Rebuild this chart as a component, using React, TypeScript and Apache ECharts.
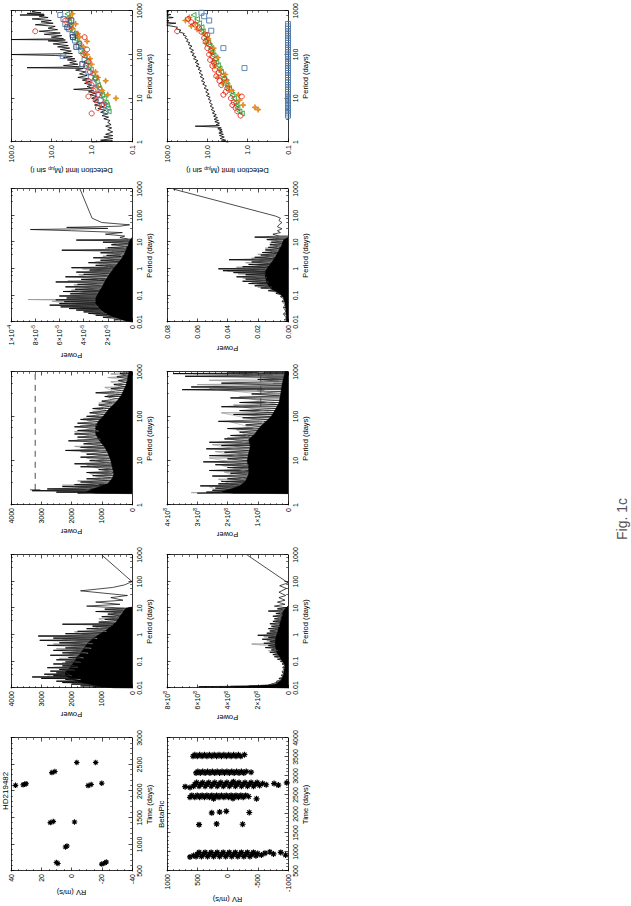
import React, { useEffect, useRef } from 'react';
import * as echarts from 'echarts';

// ---------------- DATA ----------------
// RV panels: [time (days), RV (m/s)]
const HD_RV = [[640,9],[660,10],[630,-20],[650,-22],[670,-23],[950,4],[970,3],[1410,14],[1430,12],[1420,-2],[2110,37],[2120,32],[2130,31],[2140,30],[2105,-11],[2125,-13],[2150,-20],[2350,13],[2370,11],[2540,-3.5],[2540,-16]];
const BP_RV = [
  [880,520],[940,500],[990,470],[880,430],[940,400],[990,370],[880,330],[940,300],[990,270],[880,230],[940,200],[990,170],[880,130],[940,100],[990,70],[880,30],[940,0],[990,-30],[880,-70],[940,-100],[990,-130],[880,-170],[940,-200],[990,-230],[880,-270],[940,-300],[990,-330],[880,-370],[940,-400],[990,-430],[900,-470],[960,-500],[870,620],[920,-560],[970,-620],[1000,-700],[950,-760],[990,-880],[920,-960],[910,560],
  [1720,470],[1740,180],[1730,-250],[2030,260],[2050,130],[2070,20],[2040,-360],
  [2440,620],[2490,590],[2440,540],[2490,500],[2440,460],[2490,420],[2440,380],[2490,340],[2440,300],[2490,260],[2440,220],[2490,180],[2440,140],[2490,100],[2440,60],[2490,20],[2440,-20],[2490,-60],[2440,-100],[2490,-140],[2440,-180],[2490,-220],[2440,-260],[2490,-300],[2460,-350],[2400,230],[2410,-90],[2400,-480],
  [2730,560],[2780,540],[2830,510],[2730,470],[2780,440],[2830,410],[2730,370],[2780,340],[2830,310],[2730,270],[2780,240],[2830,210],[2730,170],[2780,140],[2830,110],[2730,70],[2780,40],[2830,10],[2730,-30],[2780,-60],[2830,-90],[2730,-130],[2780,-160],[2830,-190],[2730,-230],[2780,-260],[2830,-290],[2730,-330],[2780,-360],[2830,-390],[2730,-430],[2780,-460],[2830,-490],[2750,-530],[2800,-580],[2770,-640],[2720,700],[2800,-770],[2760,-840],[2820,-980],[2700,620],[2850,-100],
  [3080,520],[3120,490],[3080,450],[3120,410],[3080,370],[3120,330],[3080,290],[3120,250],[3080,210],[3120,170],[3080,130],[3120,90],[3080,50],[3120,10],[3080,-30],[3120,-70],[3080,-110],[3120,-150],[3080,-190],[3120,-230],[3080,-270],[3120,-310],[3100,-390],
  [3520,570],[3560,540],[3520,500],[3560,460],[3520,420],[3560,380],[3520,340],[3560,300],[3520,260],[3560,220],[3520,180],[3560,140],[3520,100],[3560,60],[3520,20],[3560,-20],[3520,-60],[3560,-100],[3520,-140],[3560,-180],[3520,-220],[3560,-280]
];

// Periodograms: [period (days), power]. *_DENSE = densely sampled part, *_TAIL = sparse long-period part
const HD_P1_FILL = [[0.01,0],[0.0102,600],[0.011,900],[0.013,1300],[0.016,1650],[0.02,1900],[0.025,2100],[0.03,2200],[0.04,2200],[0.05,2100],[0.07,2000],[0.1,1900],[0.15,1800],[0.2,1700],[0.3,1600],[0.5,1450],[0.7,1300],[1,1100],[1.5,850],[2,700],[3,520],[5,400],[7,300],[10,200],[11,0]];
const HD_P1_DENSE = [[0.011,1300],[0.0115,900],[0.012,1700],[0.013,1100],[0.014,2000],[0.015,1400],[0.016,2300],[0.017,1500],[0.018,2500],[0.019,1700],[0.021,2200],[0.022,1800],[0.023,3000],[0.024,1900],[0.026,3300],[0.027,2000],[0.029,2600],[0.031,2000],[0.033,2900],[0.035,2000],[0.037,2500],[0.04,1950],[0.043,2700],[0.046,1900],[0.05,2400],[0.054,1800],[0.058,2800],[0.063,1800],[0.068,2300],[0.074,1750],[0.08,2600],[0.087,1700],[0.095,2200],[0.105,1650],[0.115,2500],[0.125,1600],[0.14,2100],[0.155,1550],[0.17,2700],[0.19,1500],[0.21,2300],[0.23,1450],[0.26,2600],[0.29,1400],[0.32,2200],[0.36,1350],[0.4,2800],[0.44,1300],[0.5,2400],[0.55,1250],[0.62,3050],[0.68,1200],[0.75,2600],[0.82,1150],[0.9,3100],[0.98,1050],[1.1,2200],[1.2,950],[1.35,1800],[1.5,800],[1.7,1500],[1.9,700],[2.1,1300],[2.3,650],[2.5,2300],[2.7,550],[3.0,1100],[3.4,500],[3.8,900],[4.3,450],[4.8,1000],[5.4,400],[6,800],[6.7,350],[7.5,1200],[8.3,300],[9.2,900],[10,250]];
const HD_P1_TAIL = [[10,250],[12,1500],[14,400],[17,1200],[20,300],[25,700],[30,150],[45,1700],[60,650],[75,250],[100,0],[1000,1000]];
const HD_P1_GRAY = [[0.02,2100],[0.0205,1700],[0.028,2800],[0.0285,2000],[0.045,2300],[0.046,1900],[0.06,2600],[0.061,1800],[0.09,2300],[0.092,1700],[0.13,2400],[0.133,1600],[0.2,2100],[0.205,1450],[0.3,2500],[0.31,1350],[0.45,2600],[0.46,1300],[0.7,2300],[0.72,1150],[1.3,1900],[1.33,850],[2.2,1300],[2.25,650],[4,1100],[4.1,450],[7,600],[7.2,300]];

const HD_P2_FILL = [[1.8,0],[1.85,1200],[2,1500],[2.3,1300],[2.7,1000],[3,800],[4,650],[5,600],[7,650],[10,700],[15,800],[20,900],[30,1100],[40,1200],[60,1200],[80,1100],[100,950],[150,750],[200,550],[300,350],[500,200],[700,150],[1000,100]];
const HD_P2_DENSE = [[1.85,1800],[1.9,1200],[1.95,2500],[2.0,1400],[2.1,3300],[2.2,1500],[2.3,2800],[2.45,1300],[2.6,2300],[2.75,1100],[2.9,1900],[3.1,900],[3.3,1700],[3.6,800],[3.9,1500],[4.2,700],[4.6,1300],[5,650],[5.4,1500],[5.8,650],[6.3,1100],[6.8,700],[7.3,1700],[7.9,700],[8.5,1900],[9.2,750],[10,1400],[11,750],[12,1700],[13,800],[14,1500],[15.5,850],[17,2200],[18.5,900],[20,1700],[22,950],[24,1600],[26,1000],[28,2100],[31,1050],[34,1800],[37,1100],[40,1900],[44,1100],[48,1800],[53,1100],[58,1900],[64,1150],[70,1800],[77,1100],[85,1700],[93,1000],[100,1500],[110,950],[120,1400],[135,850],[150,1300],[165,750],[180,1100],[200,650],[220,1000],[250,500],[280,900],[310,400],[340,1200],[380,350],[420,700],[470,250],[520,600],[580,200],[640,450],[700,150],[780,500],[850,200],[920,400],[1000,200]];
const HD_P2_GRAY = [[2.3,2600],[2.35,1400],[2.8,2300],[2.85,1100],[3.5,1800],[3.55,850],[5.2,1400],[5.3,650],[8,1500],[8.1,700],[11.5,1500],[11.7,750],[16,1700],[16.3,850],[21,1900],[21.4,950],[30,1800],[30.6,1050],[45,1900],[46,1100],[62,1700],[63,1150],[90,1600],[92,1000],[130,1300],[133,850],[200,1100],[205,650],[300,800],[310,400],[450,900],[470,300],[600,700],[650,150],[750,800],[820,200],[900,700],[1000,300]];
const HD_P2_THRESHOLD = [[2.2,3200],[1000,3200]];
const HD_P2_THRESHOLD_TICK = [[2.2,3030],[2.2,3370]];

// HD219482 third periodogram, power in units of 1e-5
const HD_P3_FILL = [[0.01,0],[0.011,0.5],[0.013,1.0],[0.016,1.6],[0.02,2.1],[0.03,2.6],[0.05,3.0],[0.08,3.0],[0.12,2.8],[0.2,2.5],[0.3,2.3],[0.5,2.0],[0.8,1.7],[1.2,1.4],[2,1.0],[3,0.7],[5,0.5],[8,0.3],[12,0.15],[15,0]];
const HD_P3_DENSE = [[0.012,1.5],[0.013,1.1],[0.015,2.4],[0.016,1.7],[0.018,3.0],[0.019,2.0],[0.021,3.6],[0.022,2.2],[0.024,4.0],[0.026,2.5],[0.028,4.6],[0.03,2.7],[0.032,5.2],[0.034,2.8],[0.037,5.9],[0.04,2.9],[0.043,6.8],[0.046,3.0],[0.05,6.0],[0.054,3.0],[0.058,5.6],[0.063,3.0],[0.068,6.3],[0.074,3.0],[0.08,5.4],[0.087,3.0],[0.095,6.0],[0.105,2.9],[0.115,5.1],[0.125,2.9],[0.14,5.7],[0.155,2.7],[0.17,4.7],[0.19,2.6],[0.21,5.5],[0.23,2.5],[0.26,4.5],[0.29,2.4],[0.32,6.3],[0.36,2.3],[0.4,4.2],[0.44,2.2],[0.5,5.5],[0.55,2.0],[0.62,4.0],[0.68,1.9],[0.75,4.6],[0.82,1.8],[0.9,3.5],[1.0,1.7],[1.1,5.0],[1.2,1.5],[1.35,3.0],[1.5,1.3],[1.7,3.6],[1.9,1.1],[2.1,2.6],[2.3,1.0],[2.6,3.2],[2.9,0.9],[3.2,2.1],[3.6,0.8],[4,2.6],[4.5,0.6],[5,5.8],[5.5,0.5],[6.2,2.0],[7,0.4],[8,1.7],[9,0.35],[10,2.4],[11,0.3],[12,4.6],[13,0.3]];
const HD_P3_TAIL = [[13,0.3],[15,1.0],[17,0.6],[20,2.2],[23,0.8],[27,5.0],[30,8.4],[33,2.0],[36,5.4],[40,1.0],[45,0.2],[55,2.5],[80,3.3],[1000,4.3]];
const HD_P3_GRAY = [[0.02,3.2],[0.0205,2.1],[0.035,5.0],[0.036,2.8],[0.06,6.6],[0.061,3.0],[0.07,8.6],[0.071,3.0],[0.1,5.2],[0.102,2.9],[0.16,5.0],[0.163,2.7],[0.25,4.8],[0.255,2.4],[0.35,5.3],[0.356,2.3],[0.6,4.4],[0.61,1.9],[1.0,4.1],[1.02,1.7],[1.8,3.0],[1.84,1.1],[3.0,2.4],[3.06,0.8],[6,2.2],[6.1,0.5],[9.5,1.6],[9.7,0.35]];

// Beta Pic periodograms, power in units of 1e8 (first two) and raw (third)
const BP_P1_FILL = [[0.01,0],[0.0105,1.5],[0.011,3.5],[0.0115,2.5],[0.012,1.6],[0.013,1.0],[0.015,0.7],[0.02,0.45],[0.03,0.3],[0.05,0.25],[0.07,0.2],[0.1,0.35],[0.15,0.55],[0.2,0.7],[0.3,0.8],[0.5,0.85],[0.8,0.8],[1.2,0.7],[2,0.6],[3,0.5],[5,0.4],[8,0.3],[10,0.15],[12,0]];
const BP_P1_DENSE = [[0.0108,4.5],[0.0112,5.9],[0.0116,3.8],[0.012,2.6],[0.0125,1.8],[0.013,1.3],[0.014,1.1],[0.016,0.8],[0.018,0.75],[0.02,0.5],[0.023,0.6],[0.026,0.35],[0.03,0.45],[0.035,0.3],[0.04,0.4],[0.05,0.28],[0.06,0.35],[0.07,0.2],[0.08,0.4],[0.09,0.25],[0.1,0.5],[0.11,0.35],[0.12,0.7],[0.13,0.45],[0.15,0.9],[0.16,0.55],[0.18,1.0],[0.2,0.65],[0.22,1.2],[0.24,0.7],[0.27,1.1],[0.3,0.75],[0.33,1.5],[0.36,0.8],[0.4,1.3],[0.44,0.8],[0.48,1.6],[0.52,0.85],[0.57,1.2],[0.62,0.85],[0.68,1.7],[0.74,0.8],[0.8,1.3],[0.88,0.8],[0.96,2.0],[1.05,0.75],[1.15,1.4],[1.25,0.7],[1.4,1.2],[1.55,0.65],[1.7,1.3],[1.9,0.6],[2.1,1.1],[2.3,0.55],[2.6,1.2],[2.9,0.5],[3.2,1.0],[3.6,0.45],[4,0.9],[4.5,0.4],[5,1.0],[5.6,0.35],[6.3,0.8],[7,0.3],[7.8,1.3],[8.6,0.3],[9.5,0.7],[10.5,0.2]];
const BP_P1_TAIL = [[10.5,0.2],[12,0.9],[14,0.2],[17,0.7],[20,0.2],[25,0.6],[30,0.15],[40,0.6],[55,0.1],[70,0.55],[90,0],[1000,2.7]];
const BP_P1_GRAY = [[0.25,1.3],[0.255,0.7],[0.35,1.2],[0.356,0.8],[0.45,2.4],[0.46,0.85],[0.6,1.4],[0.61,0.85],[0.85,1.6],[0.87,0.8],[1.3,1.2],[1.33,0.7],[2.0,1.0],[2.05,0.55],[3.4,0.9],[3.5,0.45],[5.3,0.8],[5.4,0.35],[8,0.7],[8.2,0.3]];

const BP_P2_FILL = [[1.8,0],[1.85,1.8],[2,2.2],[2.3,1.9],[2.7,1.6],[3.5,1.4],[5,1.3],[7,1.3],[10,1.35],[15,1.3],[20,1.25],[30,1.3],[40,1.1],[60,0.9],[80,0.7],[100,0.55],[150,0.4],[200,0.3],[300,0.25],[500,0.2],[700,0.15],[1000,0.1]];
const BP_P2_DENSE = [[1.85,3.0],[1.9,2.2],[1.95,2.7],[2.05,2.1],[2.15,2.5],[2.25,1.9],[2.4,2.4],[2.55,1.7],[2.7,2.9],[2.85,1.6],[3.0,2.3],[3.2,1.5],[3.4,2.2],[3.6,1.45],[3.9,2.0],[4.2,1.4],[4.5,2.5],[4.8,1.35],[5.2,1.9],[5.6,1.3],[6,2.6],[6.5,1.3],[7,2.0],[7.5,1.3],[8.1,2.4],[8.7,1.3],[9.4,2.8],[10,1.35],[11,2.0],[12,1.35],[13,2.6],[14,1.3],[15.5,2.1],[17,1.3],[18.5,2.7],[20,1.25],[22,2.2],[24,1.25],[26,2.6],[28,1.3],[31,2.1],[34,1.25],[37,1.9],[40,1.1],[44,1.6],[48,1.0],[53,2.0],[58,0.9],[64,1.4],[70,0.85],[77,2.3],[85,0.7],[93,1.5],[100,0.55],[110,1.8],[120,0.5],[135,1.6],[150,0.4],[165,2.2],[185,0.35],[205,1.6],[230,0.3],[260,1.9],[290,0.3],[320,1.2],[360,0.25],[400,3.5],[430,0.8],[460,3.2],[500,0.2],[560,2.2],[620,0.3],[680,1.0],[740,0.1],[800,3.4],[860,0.5],[920,3.8],[960,1.0],[1000,2.0]];
const BP_P2_GRAY = [[1.9,3.2],[1.92,2.2],[2.6,2.6],[2.65,1.7],[3.8,2.3],[3.85,1.45],[5.5,2.1],[5.6,1.3],[7.8,2.2],[7.9,1.3],[11.5,2.6],[11.7,1.35],[16,2.4],[16.3,1.3],[23,2.5],[23.4,1.25],[33,2.0],[33.5,1.25],[50,1.7],[51,1.0],[75,1.9],[76,0.8],[120,2.2],[122,0.5],[180,1.8],[184,0.35],[280,1.6],[290,0.3],[420,2.6],[440,0.8],[520,3.0],[560,0.5],[650,2.6],[720,0.3],[850,1.5],[1000,0.8]];
const BP_P2_SEGMENT = [[170,0.9],[850,0.9]];
const BP_P2_SEGMENT_TICK = [[390,0.78],[390,1.02]];

const BP_P3_FILL = [[0.01,0],[0.011,0.001],[0.03,0.0015],[0.05,0.002],[0.08,0.003],[0.1,0.004],[0.13,0.007],[0.16,0.01],[0.2,0.012],[0.3,0.014],[0.5,0.015],[0.8,0.015],[1.2,0.013],[2,0.01],[3,0.008],[5,0.006],[8,0.004],[12,0.003],[15,0]];
const BP_P3_DENSE = [[0.012,0.0025],[0.014,0.001],[0.02,0.003],[0.025,0.0015],[0.035,0.003],[0.045,0.002],[0.06,0.004],[0.07,0.0025],[0.09,0.005],[0.1,0.004],[0.12,0.008],[0.13,0.006],[0.15,0.013],[0.17,0.009],[0.19,0.018],[0.21,0.011],[0.23,0.022],[0.25,0.012],[0.28,0.026],[0.31,0.013],[0.34,0.03],[0.37,0.014],[0.41,0.028],[0.45,0.014],[0.5,0.034],[0.55,0.015],[0.6,0.028],[0.66,0.015],[0.72,0.036],[0.78,0.015],[0.85,0.043],[0.92,0.015],[1.0,0.046],[1.1,0.014],[1.2,0.03],[1.3,0.013],[1.45,0.026],[1.6,0.012],[1.8,0.024],[2.0,0.011],[2.2,0.039],[2.4,0.01],[2.7,0.022],[3.0,0.009],[3.3,0.018],[3.7,0.008],[4.1,0.017],[4.6,0.007],[5.1,0.015],[5.7,0.006],[6.4,0.013],[7.2,0.005],[8,0.012],[9,0.004],[10,0.011],[11,0.004],[12.5,0.014],[14,0.006],[15.5,0.022],[17,0.006]];
const BP_P3_TAIL = [[17,0.006],[20,0.01],[23,0.005],[27,0.007],[32,0.004],[38,0.007],[45,0.006],[55,0.004],[65,0.006],[80,0.005],[95,0.008],[1000,0.076]];
const BP_P3_GRAY = [[0.2,0.02],[0.205,0.011],[0.3,0.024],[0.31,0.013],[0.45,0.03],[0.46,0.014],[0.65,0.033],[0.66,0.015],[0.8,0.04],[0.82,0.015],[1.15,0.034],[1.17,0.014],[1.7,0.028],[1.73,0.012],[2.5,0.024],[2.55,0.01],[3.5,0.02],[3.6,0.008],[6,0.015],[6.1,0.006],[9.5,0.012],[9.7,0.004]];

// Detection limits: [period (days), Mjup sin i]
const HD_DET_CURVE = [[1,1.0],[1.05,0.3],[1.1,0.6],[1.2,0.3],[1.3,0.5],[1.4,0.3],[1.5,0.45],[1.7,0.3],[1.9,0.4],[2.1,0.32],[2.3,0.45],[2.5,0.33],[2.8,0.4],[3.1,0.35],[3.4,0.5],[3.7,0.38],[4,0.55],[4.4,0.4],[4.8,0.6],[5.3,0.45],[5.8,0.7],[6.4,0.5],[7,0.85],[7.7,0.6],[8.5,0.9],[9.3,0.7],[10,1.0],[11,0.75],[12,1.1],[13,0.8],[14,1.2],[15,0.9],[16,2.8],[17,1.0],[18.5,1.3],[20,1.0],[22,1.5],[24,1.1],[26,1.7],[28,1.2],[30,2.2],[33,1.3],[36,2.0],[40,1.4],[44,2.5],[48,1.6],[50,40],[52,2.0],[56,5],[60,2.2],[65,3.5],[70,2.4],[75,4],[80,2.6],[85,5],[90,3],[95,8],[100,100],[105,3],[110,5],[120,3.2],[130,6],[140,3.5],[150,7],[160,3.8],[175,9],[190,4],[205,12],[215,4.5],[220,100],[230,5],[250,10],[270,5.5],[290,15],[310,6],[340,20],[370,7],[400,12],[440,8],[480,25],[520,9],[560,18],[600,10],[650,30],[700,12],[750,20],[780,15],[800,60],[830,15],[870,40],[900,18],[950,30],[1000,25]];
const HD_DET_RED = [[4.5,1.0],[6,0.7],[7,0.55],[9,0.8],[11,1.2],[12,0.7],[15,0.9],[20,1.0],[25,1.2],[30,0.8],[40,1.1],[55,1.4],[70,1.2],[100,1.6],[130,1.3],[180,2.0],[250,1.5],[300,2.5],[340,25],[450,3.5],[600,4.5]];
const HD_DET_ORANGE = [[8,0.5],[10,0.25],[12,0.4],[15,0.55],[18,0.7],[25,0.45],[30,0.7],[40,0.8],[60,1.0],[80,1.1],[100,1.3],[150,1.6],[200,1.3],[250,2.0],[300,2.2],[400,3.0],[500,2.5],[700,3.5],[850,3.0]];
const HD_DET_GREEN = [[5,0.38],[6,0.4],[7,0.42],[8,0.45],[10,0.5],[12,0.55],[14,0.6],[17,0.65],[20,0.7],[24,0.75],[28,0.85],[35,0.95],[45,1.05],[55,1.2],[70,1.35],[90,1.5],[110,1.7],[140,1.9],[180,2.1],[220,2.4],[280,2.7],[350,3.0],[450,3.3],[550,3.6],[700,3.8],[850,4.0]];
const HD_DET_BLUE = [[5,0.45],[7,0.5],[9,0.6],[12,0.65],[16,0.8],[22,0.9],[30,1.05],[40,1.2],[55,1.35],[75,1.5],[92,5.2],[120,1.8],[160,2.1],[210,2.6],[280,3.0],[380,3.6],[500,4.5],[650,5.0],[800,6.0]];
const HD_DET_NAVY = [[60,1.7],[150,2.4],[250,2.9],[420,4.0],[600,3.2]];

const BP_DET_CURVE = [[1,3.0],[1.05,4.5],[1.1,3.5],[1.2,4.8],[1.3,3.8],[1.4,5],[1.5,4.0],[1.6,5.2],[1.7,4.2],[1.8,5.0],[1.9,4.3],[2.0,5.5],[2.1,4.5],[2.2,5.8],[2.3,20],[2.4,5],[2.5,6],[2.7,5],[2.9,6.5],[3.1,5.3],[3.3,6.8],[3.6,5.6],[3.9,7],[4.2,6],[4.6,7.5],[5,6.5],[5.5,8],[6,7],[6.6,8.5],[7.2,7.5],[8,9],[8.8,8],[9.6,9.5],[10.5,8.5],[11.5,10.5],[12.5,9],[14,11],[15.5,9.5],[17,12],[19,10.5],[21,13],[23,11.5],[25,14],[28,12],[31,15],[34,13],[38,16],[42,14],[46,17],[50,15],[55,19],[60,16],[66,20],[72,17],[80,22],[88,19],[96,24],[105,21],[115,26],[125,22],[140,28],[155,24],[170,30],[185,27],[200,33],[220,30],[240,36],[260,33],[280,40],[300,37],[330,50],[360,45],[390,60],[420,55],[450,80],[480,150],[520,60],[560,150],[600,90],[650,150],[700,70],[760,150],[820,80],[880,150],[950,90],[1000,150]];
const BP_DET_RED = [[4,1.5],[5,1.8],[6,2.0],[7,2.4],[8,2.2],[10,2.6],[11,1.4],[12,4.0],[14,3.5],[17,3.2],[20,4.5],[25,5.0],[28,3.8],[32,6.0],[38,5.2],[45,6.5],[55,7.5],[65,6.8],[75,8.5],[90,7.5],[100,9.0],[120,8.0],[140,10],[170,9],[200,11],[240,12],[280,10],[330,14],[340,56],[400,16],[480,20],[550,25],[650,30]];
const BP_DET_ORANGE = [[5.5,0.55],[6.2,0.66],[7,1.3],[9,1.6],[12,1.7],[15,2.5],[18,3.0],[22,4.2],[26,3.3],[30,5.5],[35,3.6],[45,4.8],[55,6.5],[70,7.0],[85,5.5],[110,8.0],[140,7.0],[180,11],[230,9.5],[300,12],[380,18],[450,25],[520,20],[600,35],[700,28]];
const BP_DET_GREEN = [[4.5,1.4],[5,1.6],[6,1.8],[7,1.9],[8,2.0],[10,2.2],[12,2.4],[14,2.6],[17,2.9],[20,3.2],[24,3.5],[28,3.9],[33,4.2],[40,4.6],[48,5.0],[57,5.5],[68,6.0],[80,6.5],[95,7.0],[115,7.5],[135,8.2],[160,8.8],[190,9.5],[230,10.5],[280,11.5],[340,13],[420,14],[520,16],[650,18],[800,22]];
const BP_DET_BLUE = [[49,1.2],[140,4.0],[350,8.0],[600,9.0],[750,12],[900,14]];
const BP_DET_FLOOR = [[4,0.1],[4.5,0.1],[5,0.1],[5.5,0.1],[6,0.1],[6.6,0.1],[7.3,0.1],[8,0.1],[9,0.1],[10,0.1],[11,0.1],[12.5,0.1],[14,0.1],[16,0.1],[18,0.1],[20,0.1],[23,0.1],[26,0.1],[30,0.1],[34,0.1],[38,0.1],[43,0.1],[49,0.1],[55,0.1],[62,0.1],[70,0.1],[80,0.1],[90,0.1],[100,0.1],[115,0.1],[130,0.1],[145,0.1],[165,0.1],[185,0.1],[210,0.1],[240,0.1],[270,0.1],[300,0.1],[340,0.1],[390,0.1],[440,0.1],[500,0.1]];

const STAR_NAMES = ['HD219482', 'BetaPic'];
const FIG_LABEL = 'Fig. 1c';

// ---------------- LAYOUT / STYLE ----------------
const FONT = '"Liberation Sans", Arial, Helvetica, sans-serif';
const LAND_W = 906;
const LAND_H = 631;
const ROW_TOP = [11, 167];
const ROW_H = 121;
const COL_LEFT = [35, 218, 401, 584, 764];
const COL_W = 133;

const RED = '#e3261b';
const ORANGE = '#f39419';
const GREEN = '#2fa33a';
const BLUE = '#4f7db0';
const NAVY = '#1d3767';
const GRAY = '#9a9a9a';

const fmtPeriod = (v: number) => String(Number(v.toPrecision(3)));
const fmtInt = (v: number) => String(Math.round(v));
const fmtE8 = (v: number) => (v === 0 ? '0' : `${Math.round(v)}×10{s|8}`);
const fmtE5 = (v: number) => (v === 0 ? '0' : Math.round(v) === 10 ? '1×10{s|-4}' : `${Math.round(v)}×10{s|-5}`);
const fmt2 = (v: number) => v.toFixed(2);
const fmt1 = (v: number) => v.toFixed(1);

const RICH = { s: { fontSize: 5, lineHeight: 9, verticalAlign: 'top', fontFamily: FONT, color: '#000' } };

type AxisSpec = { type: 'log' | 'value'; min: number; max: number; interval?: number; split?: number; fmt: (v: number) => string; name: string; gap: number; minor: number };

function makeAxis(kind: 'x' | 'y', gi: number, a: AxisSpec, mirror: boolean) {
  const lineStyle = { color: '#000', width: 0.8 };
  const ax: any = {
    gridIndex: gi,
    type: a.type,
    min: a.min,
    max: a.max,
    position: kind === 'x' ? (mirror ? 'top' : 'bottom') : (mirror ? 'right' : 'left'),
    axisLine: { show: true, onZero: false, lineStyle },
    axisTick: { show: true, inside: true, length: 3.5, lineStyle: { color: '#000', width: 0.7 } },
    minorTick: { show: true, splitNumber: a.minor, length: 1.8, lineStyle: { color: '#000', width: 0.6 } },
    splitLine: { show: false },
    minorSplitLine: { show: false },
    axisLabel: mirror
      ? { show: false }
      : { show: true, fontSize: 7, color: '#000', fontFamily: FONT, margin: 3, lineHeight: 9, formatter: a.fmt, rich: RICH },
    name: mirror ? '' : a.name,
    nameLocation: 'middle',
    nameGap: a.gap,
    nameTextStyle: { fontSize: 7.5, color: '#000', fontFamily: FONT, rich: { sub: { fontSize: 5, verticalAlign: 'bottom', lineHeight: 9, fontFamily: FONT } } },
  };
  if (a.type === 'log') {
    ax.logBase = 10;
    ax.splitNumber = a.split;
  } else if (a.interval !== undefined) {
    ax.interval = a.interval;
  }
  return ax;
}

const periodAxis5: AxisSpec = { type: 'log', min: 0.01, max: 1000, split: 5, fmt: fmtPeriod, name: 'Period (days)', gap: 13, minor: 4 };
const periodAxis3: AxisSpec = { type: 'log', min: 1, max: 1000, split: 3, fmt: fmtPeriod, name: 'Period (days)', gap: 13, minor: 4 };
const powerHD: AxisSpec = { type: 'value', min: 0, max: 4000, interval: 1000, fmt: fmtInt, name: 'Power', gap: 22, minor: 5 };

type Panel = { x: AxisSpec; y: AxisSpec; series: any[] };

function line(data: number[][], color: string, width: number, extra: any = {}) {
  return { type: 'line', data, symbol: 'none', silent: true, lineStyle: { color, width }, ...extra };
}
function area(data: number[][]) {
  return { type: 'line', data, symbol: 'none', silent: true, lineStyle: { color: '#000', width: 0.5 }, areaStyle: { color: '#000', opacity: 1 } };
}
// vertical comb: one stroke from zero power to each sampled value (dense periodogram look)
function comb(data: number[][], color: string, width: number) {
  return {
    type: 'custom',
    data,
    silent: true,
    renderItem: (_params: any, api: any) => {
      const top = api.coord([api.value(0), api.value(1)]);
      const base = api.coord([api.value(0), 0]);
      return { type: 'line', shape: { x1: top[0], y1: top[1], x2: base[0], y2: base[1] }, style: { stroke: color, lineWidth: width } };
    },
  };
}
function scatter(data: number[][], symbol: string, fill: string, stroke: string, size: number, bw = 0.9) {
  return { type: 'scatter', data, symbol, symbolSize: size, silent: true, itemStyle: { color: fill, borderColor: stroke, borderWidth: bw, opacity: 1 } };
}
// gray curve first, then the black fill and black curve on top of it
function periodogram(fill: number[][], dense: number[][], gray: number[][], tail: number[][]) {
  return [
    comb(gray, GRAY, 0.8),
    line(gray, GRAY, 0.6),
    area(fill),
    comb(dense, '#000', 0.8),
    line(dense, '#000', 0.6),
    line(tail, '#000', 0.7),
  ];
}

const ASTERISK = 'path://M0 5L10 5M5 0L5 10M1.5 1.5L8.5 8.5M8.5 1.5L1.5 8.5';
const STAR = 'path://M5 0L6.4 3.6L10 5L6.4 6.4L5 10L3.6 6.4L0 5L3.6 3.6Z';

const PANELS: Panel[] = [
  // Row 0: HD219482
  {
    x: { type: 'value', min: 500, max: 3000, interval: 500, fmt: fmtInt, name: 'Time (days)', gap: 13, minor: 5 },
    y: { type: 'value', min: -40, max: 40, interval: 20, fmt: fmtInt, name: 'RV (m/s)', gap: 17, minor: 4 },
    series: [scatter(HD_RV, ASTERISK, 'rgba(0,0,0,0)', '#000', 5.5, 1.1)],
  },
  { x: periodAxis5, y: powerHD, series: periodogram(HD_P1_FILL, HD_P1_DENSE, HD_P1_GRAY, HD_P1_TAIL) },
  {
    x: periodAxis3,
    y: powerHD,
    series: [
      ...periodogram(HD_P2_FILL, HD_P2_DENSE, HD_P2_GRAY, []),
      line(HD_P2_THRESHOLD, '#000', 0.7, { lineStyle: { color: '#000', width: 0.7, type: [6, 5] } }),
      line(HD_P2_THRESHOLD_TICK, '#000', 0.7),
    ],
  },
  {
    x: periodAxis5,
    y: { type: 'value', min: 0, max: 10, interval: 2, fmt: fmtE5, name: 'Power', gap: 29, minor: 4 },
    series: periodogram(HD_P3_FILL, HD_P3_DENSE, HD_P3_GRAY, HD_P3_TAIL),
  },
  {
    x: periodAxis3,
    y: { type: 'log', min: 0.1, max: 100, split: 3, fmt: fmt1, name: 'Detection limit (M{sub|jup} sin i)', gap: 24, minor: 4 },
    series: [
      line(HD_DET_CURVE, '#000', 0.8),
      scatter(HD_DET_GREEN, 'triangle', 'rgba(0,0,0,0)', GREEN, 5),
      scatter(HD_DET_ORANGE, STAR, ORANGE, '#c86a00', 6, 0.5),
      scatter(HD_DET_BLUE, 'rect', 'rgba(0,0,0,0)', BLUE, 5),
      scatter(HD_DET_NAVY, 'rect', 'rgba(0,0,0,0)', NAVY, 5),
      scatter(HD_DET_RED, 'circle', 'rgba(0,0,0,0)', RED, 5),
    ],
  },
  // Row 1: Beta Pic
  {
    x: { type: 'value', min: 500, max: 4000, interval: 500, fmt: fmtInt, name: 'Time (days)', gap: 13, minor: 5 },
    y: { type: 'value', min: -1000, max: 1000, interval: 500, fmt: fmtInt, name: 'RV (m/s)', gap: 22, minor: 5 },
    series: [scatter(BP_RV, ASTERISK, 'rgba(0,0,0,0)', '#000', 6, 1.2)],
  },
  {
    x: periodAxis5,
    y: { type: 'value', min: 0, max: 8, interval: 2, fmt: fmtE8, name: 'Power', gap: 25, minor: 4 },
    series: periodogram(BP_P1_FILL, BP_P1_DENSE, BP_P1_GRAY, BP_P1_TAIL),
  },
  {
    x: periodAxis3,
    y: { type: 'value', min: 0, max: 4, interval: 1, fmt: fmtE8, name: 'Power', gap: 25, minor: 5 },
    series: [
      ...periodogram(BP_P2_FILL, BP_P2_DENSE, BP_P2_GRAY, []),
      line(BP_P2_SEGMENT, '#333', 0.7, { lineStyle: { color: '#333', width: 0.7, type: [8, 4] } }),
      line(BP_P2_SEGMENT_TICK, '#333', 0.7),
    ],
  },
  {
    x: periodAxis5,
    y: { type: 'value', min: 0, max: 0.08, interval: 0.02, fmt: fmt2, name: 'Power', gap: 22, minor: 4 },
    series: periodogram(BP_P3_FILL, BP_P3_DENSE, BP_P3_GRAY, BP_P3_TAIL),
  },
  {
    x: periodAxis3,
    y: { type: 'log', min: 0.1, max: 100, split: 3, fmt: fmt1, name: 'Detection limit (M{sub|jup} sin i)', gap: 24, minor: 4 },
    series: [
      line(BP_DET_CURVE, '#000', 0.8),
      scatter(BP_DET_FLOOR, 'rect', 'rgba(0,0,0,0)', BLUE, 5),
      scatter(BP_DET_GREEN, 'triangle', 'rgba(0,0,0,0)', GREEN, 5),
      scatter(BP_DET_ORANGE, STAR, ORANGE, '#c86a00', 6, 0.5),
      scatter(BP_DET_BLUE, 'rect', 'rgba(0,0,0,0)', BLUE, 5),
      scatter(BP_DET_RED, 'circle', 'rgba(0,0,0,0)', RED, 5),
    ],
  },
];

function buildOption() {
  const grid: any[] = [];
  const xAxis: any[] = [];
  const yAxis: any[] = [];
  const series: any[] = [];
  PANELS.forEach((p, gi) => {
    const row = Math.floor(gi / 5);
    const col = gi % 5;
    grid.push({ left: COL_LEFT[col], top: ROW_TOP[row], width: COL_W, height: ROW_H, containLabel: false });
    xAxis.push(makeAxis('x', gi, p.x, false), makeAxis('x', gi, p.x, true));
    yAxis.push(makeAxis('y', gi, p.y, false), makeAxis('y', gi, p.y, true));
    p.series
      .filter((s) => !Array.isArray(s.data) || s.data.length > 0)
      .forEach((s) => series.push({ ...s, xAxisIndex: gi * 2, yAxisIndex: gi * 2, clip: true, z: 2 }));
  });
  const graphic = [
    { type: 'text', left: 96, top: 1, style: { text: STAR_NAMES[0], fontSize: 8, fill: '#000', fontFamily: FONT } },
    { type: 'text', left: 78, top: 157, style: { text: STAR_NAMES[1], fontSize: 8, fill: '#000', fontFamily: FONT } },
    { type: 'text', left: 366, top: 615, style: { text: FIG_LABEL, fontSize: 14, fill: '#555', fontFamily: FONT } },
  ];
  return { animation: false, backgroundColor: '#fff', grid, xAxis, yAxis, series, graphic };
}

export default function App() {
  const ref = useRef<HTMLDivElement>(null);
  useEffect(() => {
    if (!ref.current) return;
    const chart = echarts.init(ref.current, undefined, { renderer: 'svg' });
    chart.setOption(buildOption() as any);
    return () => chart.dispose();
  }, []);
  return (
    <div style={{ position: 'fixed', left: 0, top: 0, width: 631, height: 906, overflow: 'hidden', background: '#fff' }}>
      <div
        ref={ref}
        style={{
          position: 'absolute',
          left: 0,
          top: 0,
          width: LAND_W,
          height: LAND_H,
          transformOrigin: '0 0',
          transform: `translate(0px, ${LAND_W}px) rotate(-90deg)`,
        }}
      />
    </div>
  );
}
